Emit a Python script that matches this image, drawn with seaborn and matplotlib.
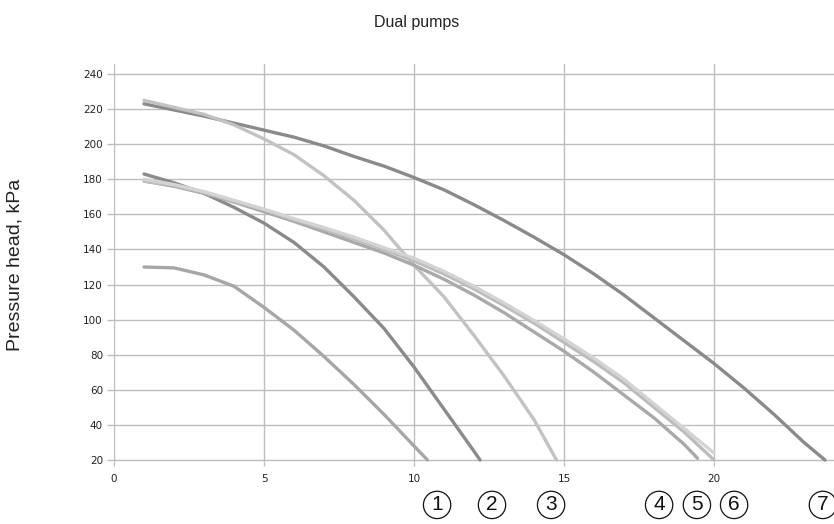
import numpy as np
import pandas as pd
import matplotlib
matplotlib.use("Agg")
import matplotlib.pyplot as plt
import seaborn as sns

# ---- data ----
flow_1 = [1, 2, 3, 4, 5, 6, 7, 8, 9, 10, 10.45]
head_1 = [130, 129.5, 125.5, 119, 107, 94, 79, 63, 46, 28, 20]

flow_2 = [1, 2, 3, 4, 5, 6, 7, 8, 9, 10, 11, 12, 12.2]
head_2 = [183, 178, 172, 164, 155, 144, 130, 113, 95, 73, 49, 25, 20]

flow_3 = [1, 2, 3, 4, 5, 6, 7, 8, 9, 10, 11, 12, 13, 14, 14.75]
head_3 = [225, 221, 217, 211, 203, 194, 182, 168, 151, 131, 113, 91, 68, 43, 20]

flow_4 = [1, 2, 3, 4, 5, 6, 7, 8, 9, 10, 11, 12, 13, 14, 15, 16, 17, 18, 19, 19.45]
head_4 = [179, 176, 172, 167, 161.5, 156, 150, 144, 138, 131, 123, 114, 104, 93, 82, 70, 57, 44, 29, 21]

flow_5 = [1, 2, 3, 4, 5, 6, 7, 8, 9, 10, 11, 12, 13, 14, 15, 16, 17, 18, 19, 20]
head_5 = [179, 176.5, 172.5, 167.5, 162.5, 157, 151.5, 146, 140, 133.5, 126, 117.5, 108, 98, 87, 76, 64, 50, 36, 20]

flow_6 = [1, 2, 3, 4, 5, 6, 7, 8, 9, 10, 11, 12, 13, 14, 15, 16, 17, 18, 19, 20]
head_6 = [180, 177, 173, 168, 163, 157.5, 152.5, 147, 141, 135, 127.5, 119, 109.5, 99.5, 89, 78, 66, 52, 38, 24]

flow_7 = [1, 2, 3, 4, 5, 6, 7, 8, 9, 10, 11, 12, 13, 14, 15, 16, 17, 18, 19, 20, 21, 22, 23, 23.7]
head_7 = [223, 219.5, 216, 212, 208, 204, 199, 193, 187.5, 181, 174, 165.5, 156.5, 147, 137, 126, 114, 101, 88, 75, 61, 46, 30, 20]

curve_names = ["7", "2", "1", "3", "4", "5", "6"]
curve_labels = ["1", "2", "3", "4", "5", "6", "7"]
label_x = [10.77, 12.6, 14.57, 18.17, 19.43, 20.67, 23.63]

x_ticks = [0, 5, 10, 15, 20]
y_ticks = [20, 40, 60, 80, 100, 120, 140, 160, 180, 200, 220, 240]

title = "Dual pumps"
y_title = "Pressure head, kPa"

series = {
    "1": (flow_1, head_1),
    "2": (flow_2, head_2),
    "3": (flow_3, head_3),
    "4": (flow_4, head_4),
    "5": (flow_5, head_5),
    "6": (flow_6, head_6),
    "7": (flow_7, head_7),
}
frames = []
for name in curve_names:
    fx, fy = series[name]
    frames.append(pd.DataFrame({"flow": fx, "head": fy, "pump": name}))
df = pd.concat(frames, ignore_index=True)

palette = {
    "1": "#a6a6a6",
    "2": "#8a8a8a",
    "3": "#c2c2c2",
    "4": "#a9a9a9",
    "5": "#bcbcbc",
    "6": "#d3d3d3",
    "7": "#8a8a8a",
}

sns.set_theme(style="white")
plt.rcParams["font.family"] = ["DejaVu Sans"]

fig = plt.figure(figsize=(8.34, 5.24), dpi=100)
y_lo, y_hi = 19.0, 245.7
px_per_unit = 386 / 220
bottom_px = 460 + (20 - y_lo) * px_per_unit
ax = fig.add_axes([114 / 834, 1 - bottom_px / 524, 1 - 114 / 834, (bottom_px - 64) / 524])

sns.lineplot(data=df, x="flow", y="head", hue="pump", hue_order=curve_names,
             palette=palette, sort=False, estimator=None, linewidth=2.4,
             legend=False, ax=ax, zorder=3)

ax.set_xlim(0, 24)
ax.set_ylim(y_lo, y_hi)
ax.set_xticks(x_ticks)
ax.set_yticks(y_ticks)
ax.set_xticklabels([str(t) for t in x_ticks], fontsize=7.5, color="#222222")
ax.set_yticklabels([str(t) for t in y_ticks], fontsize=7.5, color="#222222")
ax.grid(True, color="#bdbdbd", linewidth=1.0)
ax.set_axisbelow(True)
for s in ax.spines.values():
    s.set_visible(False)
ax.tick_params(axis="y", length=5, width=1, color="#bdbdbd", pad=3, left=True)
ax.tick_params(axis="x", length=3, width=1, color="#bdbdbd", pad=6, bottom=True)
ax.set_xlabel("")
ax.set_ylabel("")

fig.text(15 / 834, 1 - 265 / 524, y_title, ha="center", va="center", rotation=90,
         fontsize=14, color="#222222", family=["Liberation Sans", "DejaVu Sans"])
fig.text(0.5, 1 - 22 / 524, title, ha="center", va="center", fontsize=11.5,
         color="#222222", family=["Liberation Sans", "DejaVu Sans"])

for lx, lab in zip(label_x, curve_labels):
    ax.text(lx, -5.6, lab, ha="center", va="center", fontsize=15, color="#111111",
            clip_on=False, family=["Liberation Sans", "DejaVu Sans"],
            bbox=dict(boxstyle="circle,pad=0.2", fc="white", ec="#111111", lw=0.9))

fig.savefig("out.png", dpi=100)
